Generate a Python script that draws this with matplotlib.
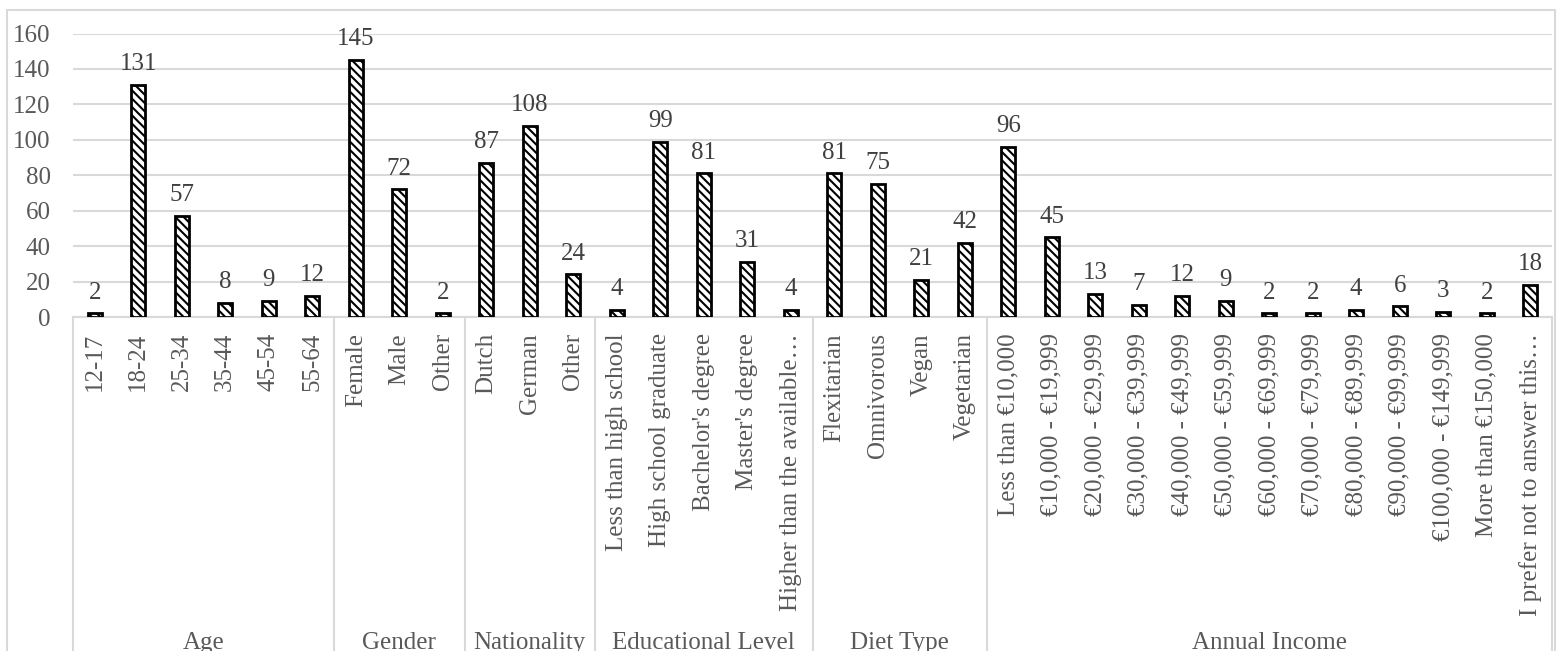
import matplotlib.pyplot as plt
import matplotlib.transforms as mtransforms
from matplotlib.patches import Rectangle
import numpy as np

plt.rcParams['font.family'] = ['Liberation Serif', 'DejaVu Serif']
plt.rcParams['hatch.linewidth'] = 1.5

groups = ['Age', 'Gender', 'Nationality', 'Educational Level', 'Diet Type', 'Annual Income']

age_labels = ['12-17', '18-24', '25-34', '35-44', '45-54', '55-64']
age_values = [2, 131, 57, 8, 9, 12]

gender_labels = ['Female', 'Male', 'Other']
gender_values = [145, 72, 2]

nation_labels = ['Dutch', 'German', 'Other']
nation_values = [87, 108, 24]

edu_labels = ['Less than high school', 'High school graduate', "Bachelor's degree",
              "Master's degree", 'Higher than the available…']
edu_values = [4, 99, 81, 31, 4]

diet_labels = ['Flexitarian', 'Omnivorous', 'Vegan', 'Vegetarian']
diet_values = [81, 75, 21, 42]

income_labels = ['Less than €10,000', '€10,000 - €19,999', '€20,000 - €29,999',
                 '€30,000 - €39,999', '€40,000 - €49,999', '€50,000 - €59,999',
                 '€60,000 - €69,999', '€70,000 - €79,999', '€80,000 - €89,999',
                 '€90,000 - €99,999', '€100,000 - €149,999', 'More than €150,000',
                 'I prefer not to answer this…']
income_values = [96, 45, 13, 7, 12, 9, 2, 2, 4, 6, 3, 2, 18]

group_labels = [age_labels, gender_labels, nation_labels, edu_labels, diet_labels, income_labels]
group_values = [age_values, gender_values, nation_values, edu_values, diet_values, income_values]

labels = sum(group_labels, [])
values = sum(group_values, [])
x = np.arange(len(values))

W, H = 1561, 651
fig = plt.figure(figsize=(W / 100, H / 100), dpi=100)
ax = fig.add_axes([73 / W, (H - 317) / H, (1552 - 73) / W, (317 - 33.5) / H])

grey = '#595959'
grid = '#d9d9d9'

ax.bar(x, values, width=0.32, color='white', edgecolor='black', linewidth=2,
       hatch='\\' * 4, zorder=3)
for xi, v in zip(x, values):
    ax.annotate(str(v), (xi, v), xytext=(0, 7), textcoords='offset points',
                ha='center', va='bottom', fontsize=18, color='#404040', zorder=4)

ax.set_xlim(-0.5, len(values) - 0.5)
ax.set_ylim(0, 160)
ax.set_yticks(np.arange(0, 161, 20))
ax.tick_params(axis='y', length=0, labelsize=18, labelcolor=grey, pad=16)
ax.set_xticks([])
ax.yaxis.grid(True, color=grid, linewidth=1.5, zorder=0)
for s in ['top', 'right', 'left']:
    ax.spines[s].set_visible(False)
ax.spines['bottom'].set_color(grid)
ax.spines['bottom'].set_linewidth(1.5)

trans = mtransforms.blended_transform_factory(ax.transData, ax.transAxes)
ax_h_px = 317 - 33.5

# category labels (rotated)
for xi, lab in zip(x, labels):
    ax.text(xi, -16 / ax_h_px, lab, transform=trans, rotation=90, ha='center', va='top',
            fontsize=18, color=grey)

# group separators and group names
start = 0
bounds = [-0.5]
for g, vals in zip(groups, group_values):
    end = start + len(vals)
    bounds.append(end - 0.5)
    center = (start + end - 1) / 2
    ax.text(center, -(649 - 317) / ax_h_px, g, transform=trans, ha='center', va='baseline',
            fontsize=18, color=grey)
    start = end
for b in bounds:
    ax.plot([b, b], [0, -(H - 317) / ax_h_px], transform=trans, color=grid,
            linewidth=1.5, clip_on=False)

# outer chart border
fig.patches.append(Rectangle((7 / W, -0.01), (1555 - 7) / W, (H - 10) / H + 0.01,
                             transform=fig.transFigure, fill=False, edgecolor=grid,
                             linewidth=1.5))

fig.savefig('out.png', dpi=100)
